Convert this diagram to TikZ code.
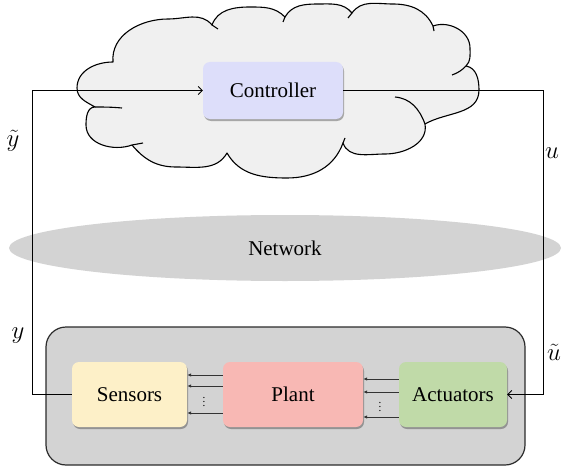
\documentclass[tikz,border=0pt]{standalone}
\usepackage{fontspec}
\setmainfont{Liberation Serif}
\usetikzlibrary{arrows.meta,shadows,shapes.geometric}
\definecolor{cloudfill}{HTML}{F0F0F0}
\definecolor{netgray}{HTML}{D3D3D3}
\definecolor{framegray}{HTML}{D3D3D3}
\definecolor{framedraw}{HTML}{2B2B2B}
\definecolor{ctrlfill}{HTML}{DDDEFA}
\definecolor{sensfill}{HTML}{FDF0C8}
\definecolor{plantfill}{HTML}{F8B8B4}
\definecolor{actfill}{HTML}{C0DAA8}
\begin{document}
\begin{tikzpicture}[x=1pt,y=1pt,
  block/.style={rounded corners=7pt, inner sep=0pt, minimum height=65pt,
    font=\fontsize{21}{25}\selectfont,
    drop shadow={shadow xshift=1pt,shadow yshift=-2pt,opacity=0.3,fill=black}},
  cloudline/.style={line width=1.1pt, line join=round},
  fb/.style={line width=0.9pt, -{Straight Barb[length=4pt,width=8pt]}},
  inner/.style={line width=0.9pt, draw=black!80, -{Latex[length=4pt,width=3.5pt]}},
  lbl/.style={font=\fontsize{23}{27}\selectfont, inner sep=0pt},
  dots/.style={font=\fontsize{11}{13}\selectfont, inner sep=0pt}]
\useasboundingbox (0,0) rectangle (565,467);

% cloud around the controller
\path[cloudline, draw=black, fill=cloudfill]
 (113,405) to[out=95,in=180] (168,448) to[out=0,in=130] (212,442)
 to[out=70,in=180] (250,460) to[out=0,in=135] (285,450)
 to[out=60,in=180] (318,463) to[out=0,in=130] (352,454)
 to[out=55,in=180] (393,463) to[out=0,in=115] (433,441)
 to[out=20,in=90] (470,419) to[out=-90,in=45] (466,401)
 to[out=-10,in=90] (479,377) to[out=-90,in=30] (425,343)
 to[out=-80,in=0] (385,313) to[out=180,in=-70] (343,324)
 to[out=-110,in=0] (287,289) to[out=180,in=-60] (227,314)
 to[out=-120,in=0] (176,300) to[out=180,in=-50] (132,322)
 to[out=200,in=-90] (86,342) to[out=90,in=180] (95,360)
 to[out=150,in=-90] (77,379) to[out=90,in=180] (113,405) -- cycle;
% inner strokes of the puffs
\draw[cloudline] (95,360) to[out=0,in=175] (122,359);
\draw[cloudline] (132,322) to[out=10,in=190] (143,324);
\draw[cloudline] (212,442) -- (218,438);
\draw[cloudline] (285,450) -- (283,445);
\draw[cloudline] (352,454) -- (348,449);
\draw[cloudline] (433,441) -- (434,436);
\draw[cloudline] (466,401) to[out=225,in=20] (452,392);
\draw[cloudline] (395,370) to[out=-5,in=110] (425,343);
\draw[cloudline] (343,324) -- (345,329);

% network
\node[ellipse, fill=netgray, inner sep=0pt, minimum width=552pt, minimum height=66pt,
      font=\fontsize{21}{25}\selectfont] (net) at (285,219) {Network};

% physical system frame
\node[draw=framedraw, line width=1.2pt, fill=framegray, rounded corners=20pt,
      minimum width=479pt, minimum height=138pt] (frame) at (285.5,71) {};

% blocks
\node[block, fill=ctrlfill, minimum width=140pt, minimum height=57pt] (ctrl) at (273,376.5) {Controller};
\node[block, fill=sensfill, minimum width=115pt] (sens) at (129.5,72.5) {Sensors};
\node[block, fill=plantfill, minimum width=140pt] (plant) at (293,72.5) {Plant};
\node[block, fill=actfill, minimum width=108pt] (act) at (453,72.5) {Actuators};

% feedback loop
\coordinate (lc) at (32,376.5);
\coordinate (rc) at (543,376.5);
\draw[fb] (sens.west) -| (lc) -- (ctrl.west);
\draw[fb] (ctrl.east) -- (rc) |- (act.east);

% signals inside the plant frame
\foreach \d in {19.5,8.5,-18.5}
  \draw[inner] ([yshift=\d]plant.west) -- ([yshift=\d]sens.east);
\foreach \d in {15.5,2.5,-22.5}
  \draw[inner] ([yshift=\d]act.west) -- ([yshift=\d]plant.east);
\node[dots] (dl) at (204,68) {$\vdots$};
\node[dots] (dr) at (380,63) {$\vdots$};

% signal labels
\node[lbl] (lyt) at (13,326) {$\tilde{y}$};
\node[lbl] (ly) at (18,131) {$y$};
\node[lbl] (lu) at (552,314) {$u$};
\node[lbl] (lut) at (554,115) {$\tilde{u}$};
\end{tikzpicture}
\end{document}
